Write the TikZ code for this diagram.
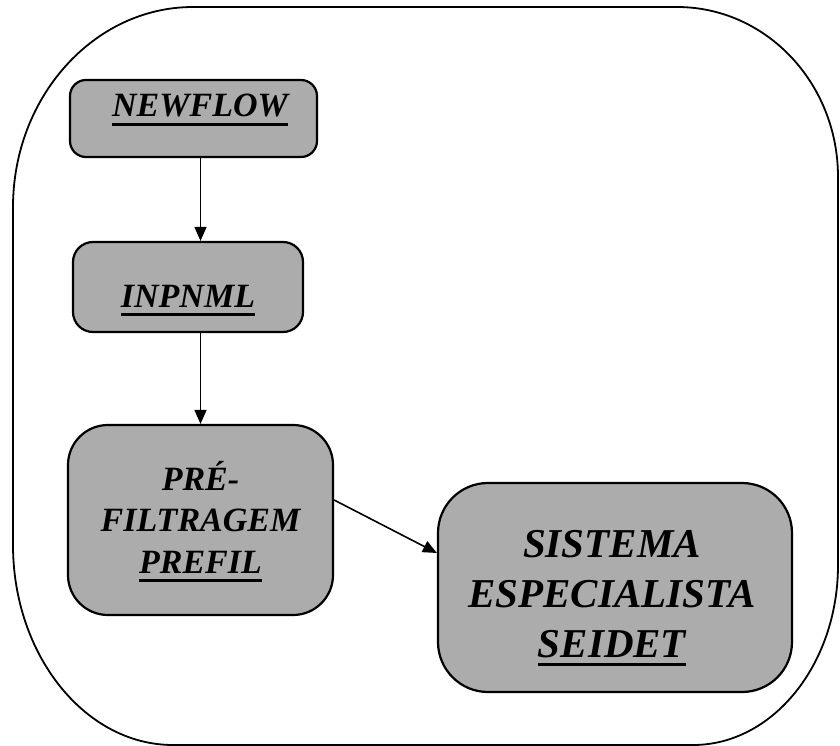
\documentclass[tikz,border=0pt]{standalone}
\usepackage{fontspec}
\setmainfont{Liberation Serif}
\usetikzlibrary{arrows.meta}
\definecolor{boxfill}{RGB}{172,172,172}
% heavy underline under a word
\newsavebox\ulwbox
\newcommand\ulword[1]{\sbox\ulwbox{#1}\leavevmode\rlap{\rule[-9pt]{\wd\ulwbox}{3pt}}\usebox\ulwbox}
\begin{document}
\begin{tikzpicture}[x=1pt,y=-1pt,
  flowbox/.style={draw, line width=2.2pt, fill=boxfill, inner sep=0pt, rounded corners=#1},
  flowbox/.default=18pt,
  lbl/.style={inner sep=0pt, align=center, font=\bfseries\itshape\fontsize{34}{41.5}\selectfont},
  biglbl/.style={inner sep=0pt, align=center, font=\bfseries\itshape\fontsize{41}{50}\selectfont},
  flowarrow/.style={line width=1.6pt, -{Triangle[length=14pt,width=12pt]}}]
\useasboundingbox (0,0) rectangle (840,746);

% outer frame
\draw[line width=1.8pt]
  (193,7) -- (677,7) .. controls (766,7) and (838,83) .. (838,177)
  -- (838,565) .. controls (838,664) and (773,745) .. (693,745)
  -- (173,745) .. controls (85,745) and (13,655) .. (13,545)
  -- (13,207) .. controls (13,97) and (94,7) .. (193,7) -- cycle;

% process boxes
\node[flowbox=16pt, minimum width=247pt, minimum height=77pt] (nf) at (193.5,118.5) {};
\node[flowbox=20pt, minimum width=230pt, minimum height=90pt] (inp) at (188,287) {};
\node[flowbox=40pt, minimum width=265pt, minimum height=190pt] (pre) at (200.5,520) {};
\node[flowbox=50pt, minimum width=354pt, minimum height=209pt] (sis) at (615,587.5) {};

% labels (base anchor sits on the last line)
\node[lbl, anchor=base] (nft) at (200,117) {\ulword{NEWFLOW}};
\node[lbl, anchor=base] (inpt) at (188,307) {\ulword{INPNML}};
\node[lbl, anchor=base] (pret) at (200.5,573) {PRÉ-\\FILTRAGEM\\\ulword{PREFIL}};
\node[biglbl, anchor=base] (sist) at (612,657) {SISTEMA\\ESPECIALISTA\\\ulword{SEIDET}};

% connectors
\draw[flowarrow] (nf.south -| pre.north) -- (inp.north -| pre.north);
\draw[flowarrow] (inp.south -| pre.north) -- (pre.north);
\draw[flowarrow] ([yshift=20pt]pre.east) -- ([yshift=34.5pt]sis.west);
\end{tikzpicture}
\end{document}
